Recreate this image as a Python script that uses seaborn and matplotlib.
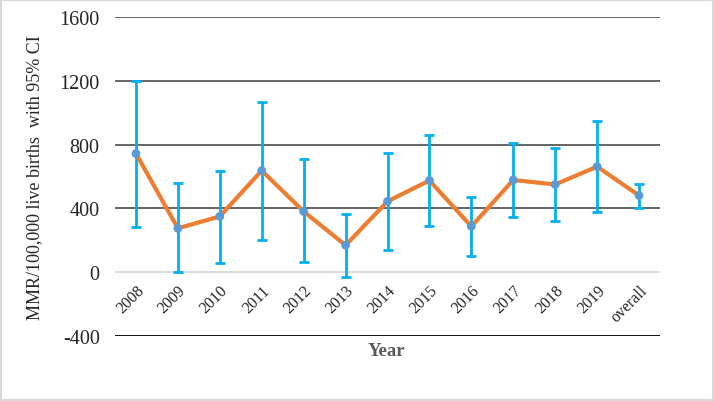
import numpy as np
import pandas as pd
import matplotlib
matplotlib.use("Agg")
import matplotlib.pyplot as plt
import seaborn as sns

# MMR per year with 95% CI
years = ["2008", "2009", "2010", "2011", "2012", "2013", "2014",
         "2015", "2016", "2017", "2018", "2019", "overall"]
mmr = [744, 275, 350, 637, 381, 169, 444, 575, 287, 578, 550, 662, 481]
ci_low = [281, 0, 56, 200, 62, -31, 137, 287, 100, 344, 319, 375, 400]
ci_high = [1200, 562, 637, 1069, 712, 362, 750, 862, 469, 812, 781, 950, 556]

yticks = [-400, 0, 400, 800, 1200, 1600]

df = pd.DataFrame({"year": years, "mmr": mmr})

sns.set_style("white")
plt.rcParams["font.family"] = ["Liberation Serif", "DejaVu Serif"]

fig = plt.figure(figsize=(7.14, 4.02), dpi=100)
ax = fig.add_axes([115 / 714, 1 - 337 / 402, 545 / 714, 319 / 402])

# gridlines: dark for positives, light at zero, black at -400
grid_cols = {-400: "black", 0: "#d9d9d9"}
for t in yticks:
    ax.axhline(t, color=grid_cols.get(t, "#595959"), lw=1.3, zorder=0)

pos = np.arange(len(years))
lo = np.array(mmr) - np.array(ci_low)
hi = np.array(ci_high) - np.array(mmr)
ax.errorbar(pos, mmr, yerr=[lo, hi], fmt="none", ecolor="#00b0f0",
            elinewidth=2, capsize=3.5, capthick=2, zorder=2)

sns.lineplot(data=df, x=pos, y="mmr", color="#ed7d31", lw=3, ax=ax,
             zorder=3, sort=False)
sns.scatterplot(x=pos, y=mmr, color="#5b9bd5", s=40, edgecolor="none",
                ax=ax, zorder=4)

# x axis labels sit on the zero line
ax.spines["bottom"].set_position(("data", 0))
for s in ax.spines.values():
    s.set_visible(False)

ax.set_xlim(-0.5, len(years) - 0.5)
ax.set_ylim(-400, 1600)
ax.set_yticks(yticks)
ax.set_yticklabels([str(t) for t in yticks], fontsize=14.5)
ax.tick_params(axis="y", length=0, pad=11)

ax.set_xticks(pos)
ax.set_xticklabels(years, rotation=45, ha="right", rotation_mode="anchor",
                   fontsize=11.5)
ax.tick_params(axis="x", length=0, pad=7)

ax.set_xlabel("")
ax.set_ylabel("MMR/100,000 live births  with 95% CI", fontsize=13,
              labelpad=12)
fig.text(386 / 714, 1 - 352 / 402, "Year", fontsize=13.5, fontweight="bold",
         color="#595959", ha="center", va="center")

# light frame round the whole chart
fig.patches.append(plt.Rectangle((0.001, 0.002), 0.997, 0.995,
                                 transform=fig.transFigure, fill=False,
                                 edgecolor="#d9d9d9", lw=1.5))

fig.savefig("out.png", dpi=100)
